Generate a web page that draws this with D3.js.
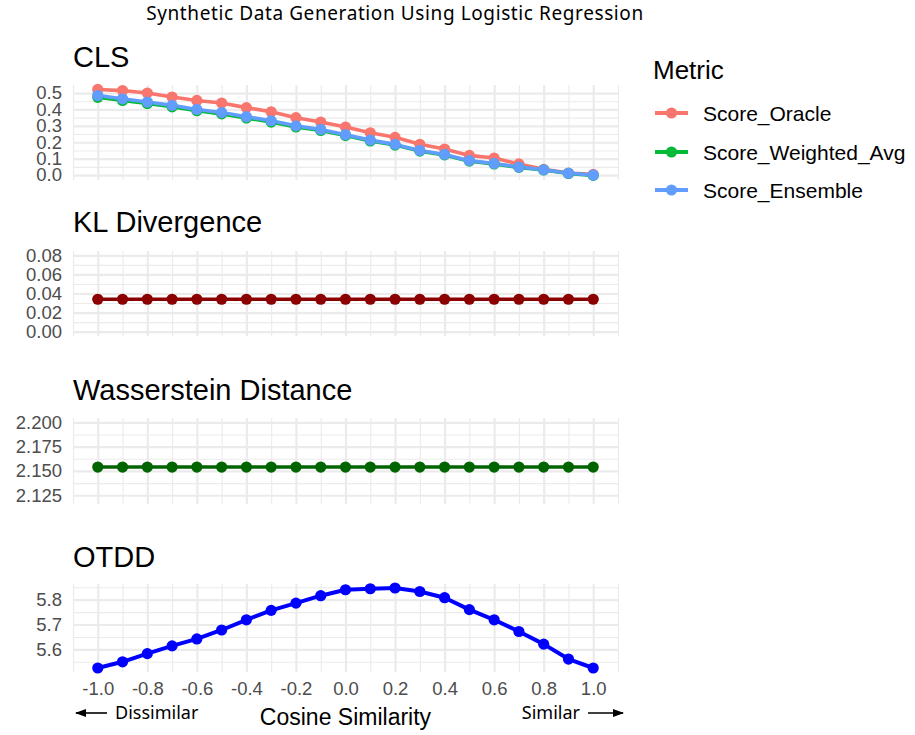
<!DOCTYPE html>
<html>
<head>
<meta charset="utf-8">
<script src="https://cdn.jsdelivr.net/npm/d3@7"></script>
<style>
  html, body { margin: 0; padding: 0; background: #ffffff; }
  svg { display: block; }
</style>
</head>
<body>
<svg id="chart" width="915" height="735"></svg>
<script>
// ---------------- DATA ----------------
const cosine = [-1.0, -0.9, -0.8, -0.7, -0.6, -0.5, -0.4, -0.3, -0.2, -0.1, 0.0,
                0.1, 0.2, 0.3, 0.4, 0.5, 0.6, 0.7, 0.8, 0.9, 1.0];
const xTickValues = [-1.0, -0.8, -0.6, -0.4, -0.2, 0.0, 0.2, 0.4, 0.6, 0.8, 1.0];
const xTickLabels = ["-1.0", "-0.8", "-0.6", "-0.4", "-0.2", "0.0", "0.2", "0.4", "0.6", "0.8", "1.0"];

const metricNames = ["Score_Oracle", "Score_Weighted_Avg", "Score_Ensemble"];
const metricColors = ["#F8766D", "#00BA38", "#619CFF"];

const scoreOracle = [0.522, 0.515, 0.500, 0.476, 0.455, 0.439, 0.411, 0.386, 0.350, 0.323, 0.293,
                     0.258, 0.230, 0.188, 0.159, 0.120, 0.104, 0.068, 0.035, 0.012, 0.004];
const scoreWeightedAvg = [0.474, 0.455, 0.436, 0.416, 0.392, 0.373, 0.348, 0.323, 0.293, 0.272, 0.241,
                          0.208, 0.183, 0.146, 0.123, 0.085, 0.068, 0.047, 0.031, 0.010, -0.002];
const scoreEnsemble = [0.485, 0.465, 0.445, 0.425, 0.400, 0.381, 0.356, 0.331, 0.300, 0.278, 0.246,
                       0.213, 0.187, 0.150, 0.126, 0.088, 0.071, 0.049, 0.032, 0.011, 0.000];

const klValues = [0.034, 0.034, 0.034, 0.034, 0.034, 0.034, 0.034, 0.034, 0.034, 0.034, 0.034,
                  0.034, 0.034, 0.034, 0.034, 0.034, 0.034, 0.034, 0.034, 0.034, 0.034];
const wassValues = [2.154, 2.154, 2.154, 2.154, 2.154, 2.154, 2.154, 2.154, 2.154, 2.154, 2.154,
                    2.154, 2.154, 2.154, 2.154, 2.154, 2.154, 2.154, 2.154, 2.154, 2.154];
const otddValues = [5.525, 5.550, 5.583, 5.614, 5.642, 5.678, 5.719, 5.757, 5.786, 5.816, 5.840,
                    5.844, 5.847, 5.833, 5.808, 5.760, 5.719, 5.672, 5.621, 5.561, 5.525];

const clsTickValues = [0.0, 0.1, 0.2, 0.3, 0.4, 0.5];
const clsTickLabels = ["0.0", "0.1", "0.2", "0.3", "0.4", "0.5"];
const klTickValues = [0.00, 0.02, 0.04, 0.06, 0.08];
const klTickLabels = ["0.00", "0.02", "0.04", "0.06", "0.08"];
const wassTickValues = [2.125, 2.150, 2.175, 2.200];
const wassTickLabels = ["2.125", "2.150", "2.175", "2.200"];
const otddTickValues = [5.6, 5.7, 5.8];
const otddTickLabels = ["5.6", "5.7", "5.8"];

const titleText = "Synthetic Data Generation Using Logistic Regression";
const xAxisTitle = "Cosine Similarity";
const leftNote = "Dissimilar";
const rightNote = "Similar";
const legendTitle = "Metric";

// ---------------- LAYOUT ----------------
const svg = d3.select("#chart");
const FONT = "'Liberation Sans', Arial, sans-serif";
const NOTE_FONT = "'Noto Sans', 'Open Sans', sans-serif";
const panelLeft = 73, panelRight = 618;

const x = d3.scaleLinear().domain([-1.1, 1.1]).range([panelLeft, panelRight]);
const xMinor = [-1.1, -0.9, -0.7, -0.5, -0.3, -0.1, 0.1, 0.3, 0.5, 0.7, 0.9, 1.1];

const panels = [
  { title: "CLS", titleY: 67, top: 85, bottom: 180, domain: [-0.03, 0.549],
    ticks: clsTickValues, labels: clsTickLabels, minorStep: 0.05,
    series: [
      { values: scoreOracle, color: metricColors[0] },
      { values: scoreWeightedAvg, color: metricColors[1] },
      { values: scoreEnsemble, color: metricColors[2] }
    ], lw: 3.6 },
  { title: "KL Divergence", titleY: 232, top: 251, bottom: 336, domain: [-0.0045, 0.0845],
    ticks: klTickValues, labels: klTickLabels, minorStep: 0.01,
    series: [{ values: klValues, color: "#8B0000" }], lw: 3.4 },
  { title: "Wasserstein Distance", titleY: 400, top: 418, bottom: 504, domain: [2.116, 2.2045],
    ticks: wassTickValues, labels: wassTickLabels, minorStep: 0.0125,
    series: [{ values: wassValues, color: "#006400" }], lw: 3.4 },
  { title: "OTDD", titleY: 567, top: 584, bottom: 672, domain: null,
    ticks: otddTickValues, labels: otddTickLabels, minorStep: 0.05,
    series: [{ values: otddValues, color: "#0000FF" }], lw: 4 }
];

panels.forEach(p => {
  let dom = p.domain;
  if (!dom) {
    const all = p.series.flatMap(s => s.values);
    const mn = d3.min(all), mx = d3.max(all), pad = (mx - mn) * 0.05;
    dom = [mn - pad, mx + pad];
  }
  const y = d3.scaleLinear().domain(dom).range([p.bottom, p.top]);
  const g = svg.append("g");
  const w = panelRight - panelLeft;

  // minor horizontal grid
  const minor = [];
  const start = Math.ceil(dom[0] / p.minorStep - 1e-6);
  const end = Math.floor(dom[1] / p.minorStep + 1e-6);
  for (let k = start; k <= end; k++) {
    const v = +(k * p.minorStep).toFixed(6);
    if (!p.ticks.some(t => Math.abs(t - v) < 1e-6)) minor.push(v);
  }
  const gridG = g.append("g").attr("class", "grid");
  gridG.append("g")
    .attr("transform", `translate(${panelLeft},0)`)
    .call(d3.axisLeft(y).tickValues(minor).tickSize(-w).tickFormat(""))
    .call(s => s.select(".domain").remove())
    .call(s => s.selectAll("line").attr("stroke", "#ebebeb").attr("stroke-width", 1.1));
  gridG.append("g")
    .attr("transform", `translate(0,${p.bottom})`)
    .call(d3.axisBottom(x).tickValues(xMinor).tickSize(-(p.bottom - p.top)).tickFormat(""))
    .call(s => s.select(".domain").remove())
    .call(s => s.selectAll("line").attr("stroke", "#ebebeb").attr("stroke-width", 1.1));
  gridG.append("g")
    .attr("transform", `translate(${panelLeft},0)`)
    .call(d3.axisLeft(y).tickValues(p.ticks).tickSize(-w).tickFormat(""))
    .call(s => s.select(".domain").remove())
    .call(s => s.selectAll("line").attr("stroke", "#ebebeb").attr("stroke-width", 2.2));
  gridG.append("g")
    .attr("transform", `translate(0,${p.bottom})`)
    .call(d3.axisBottom(x).tickValues(xTickValues).tickSize(-(p.bottom - p.top)).tickFormat(""))
    .call(s => s.select(".domain").remove())
    .call(s => s.selectAll("line").attr("stroke", "#ebebeb").attr("stroke-width", 2.2));

  // y axis labels
  g.append("g")
    .attr("transform", `translate(${panelLeft},0)`)
    .call(d3.axisLeft(y).tickValues(p.ticks).tickSize(0).tickPadding(11)
      .tickFormat((d, i) => p.labels[i]))
    .call(s => s.select(".domain").remove())
    .call(s => s.selectAll("text")
      .attr("font-family", FONT).attr("font-size", 18.5).attr("fill", "#4d4d4d"));

  // panel title
  g.append("text").attr("x", panelLeft).attr("y", p.titleY)
    .attr("font-family", FONT).attr("font-size", 29).attr("fill", "#000")
    .text(p.title);

  // lines
  const line = d3.line().x((d, i) => x(cosine[i])).y(d => y(d));
  p.series.forEach(s => {
    g.append("path").datum(s.values)
      .attr("d", line).attr("fill", "none")
      .attr("stroke", s.color).attr("stroke-width", p.lw)
      .attr("stroke-linejoin", "round").attr("stroke-linecap", "butt");
  });
  // points
  p.series.forEach(s => {
    g.append("g").selectAll("circle").data(s.values).join("circle")
      .attr("cx", (d, i) => x(cosine[i])).attr("cy", d => y(d))
      .attr("r", 5.6).attr("fill", s.color);
  });
});

// x axis labels (bottom panel)
const lastPanel = panels[panels.length - 1];
svg.append("g")
  .attr("transform", `translate(0,${lastPanel.bottom})`)
  .call(d3.axisBottom(x).tickValues(xTickValues).tickSize(0).tickPadding(10)
    .tickFormat((d, i) => xTickLabels[i]))
  .call(s => s.select(".domain").remove())
  .call(s => s.selectAll("text")
    .attr("font-family", FONT).attr("font-size", 18.5).attr("fill", "#4d4d4d"));

// x axis title
svg.append("text").attr("x", (panelLeft + panelRight) / 2).attr("y", 725)
  .attr("text-anchor", "middle").attr("font-family", FONT).attr("font-size", 23)
  .attr("fill", "#000").text(xAxisTitle);

// notes with arrows
svg.append("defs").append("marker")
  .attr("id", "ah").attr("viewBox", "0 0 10 10").attr("refX", 9).attr("refY", 5)
  .attr("markerWidth", 7).attr("markerHeight", 7).attr("orient", "auto-start-reverse")
  .append("path").attr("d", "M0,1.5 L10,5 L0,8.5 Z").attr("fill", "#000");

svg.append("line").attr("x1", 107).attr("y1", 713).attr("x2", 76).attr("y2", 713)
  .attr("stroke", "#000").attr("stroke-width", 1.6).attr("marker-end", "url(#ah)");
svg.append("text").attr("x", 115).attr("y", 719)
  .attr("font-family", NOTE_FONT).attr("font-size", 18).attr("fill", "#000").text(leftNote);
svg.append("text").attr("x", 580).attr("y", 719).attr("text-anchor", "end")
  .attr("font-family", NOTE_FONT).attr("font-size", 18).attr("fill", "#000").text(rightNote);
svg.append("line").attr("x1", 588).attr("y1", 713).attr("x2", 623).attr("y2", 713)
  .attr("stroke", "#000").attr("stroke-width", 1.6).attr("marker-end", "url(#ah)");

// title
svg.append("text").attr("x", 395).attr("y", 20).attr("text-anchor", "middle")
  .attr("font-family", NOTE_FONT).attr("font-size", 19).attr("letter-spacing", 0.6)
  .attr("fill", "#000").text(titleText);

// legend
const lg = svg.append("g");
lg.append("text").attr("x", 653).attr("y", 79)
  .attr("font-family", FONT).attr("font-size", 26).attr("fill", "#000").text(legendTitle);
const legendRows = [113, 152, 190];
metricNames.forEach((name, i) => {
  const yy = legendRows[i];
  lg.append("line").attr("x1", 655).attr("x2", 688).attr("y1", yy).attr("y2", yy)
    .attr("stroke", metricColors[i]).attr("stroke-width", 4);
  lg.append("circle").attr("cx", 671.5).attr("cy", yy).attr("r", 5.6).attr("fill", metricColors[i]);
  lg.append("text").attr("x", 703).attr("y", yy + 7.5)
    .attr("font-family", FONT).attr("font-size", 21).attr("fill", "#000").text(name);
});
</script>
</body>
</html>
